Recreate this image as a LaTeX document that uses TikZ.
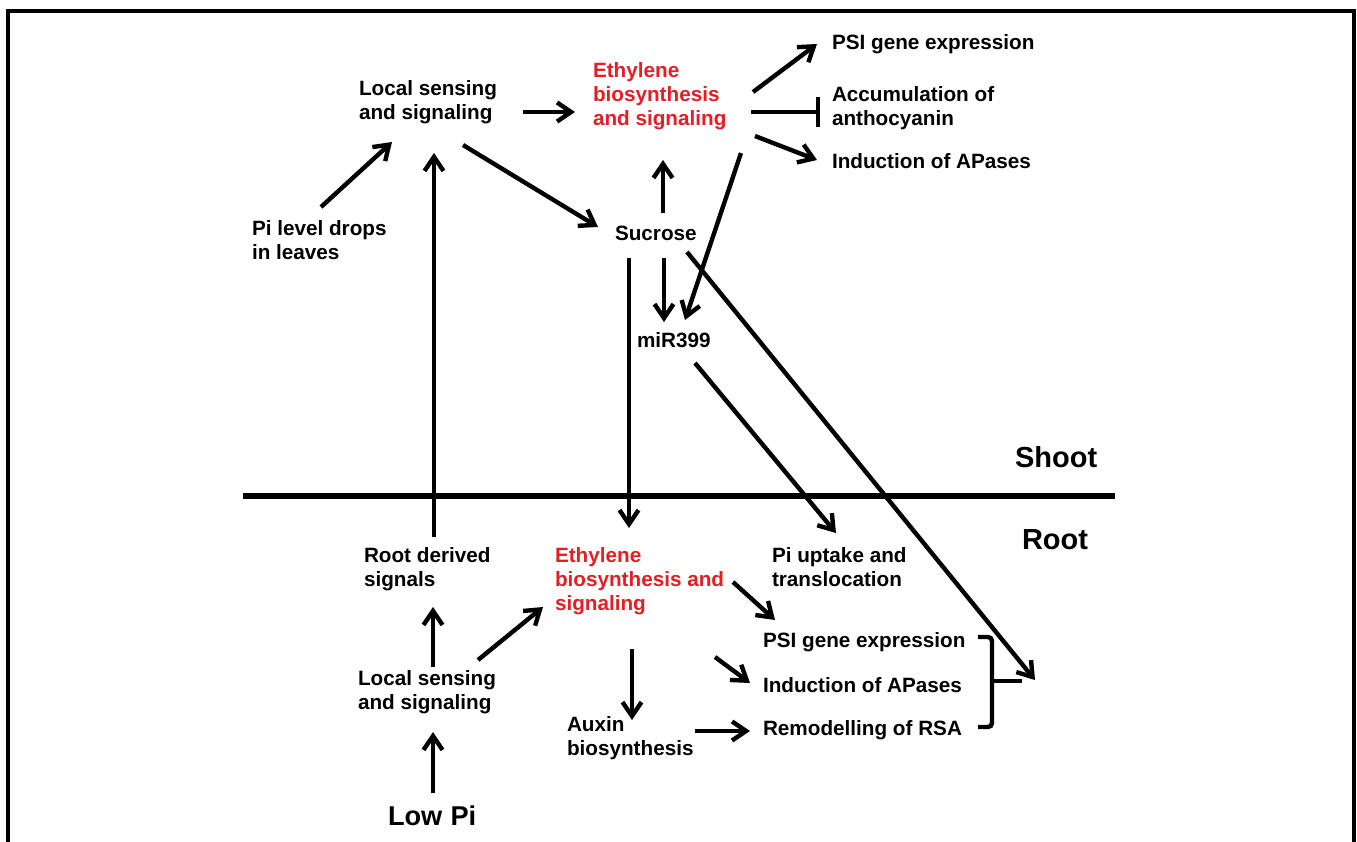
\documentclass[tikz,border=0pt]{standalone}
\usepackage{fontspec}
\setmainfont{Liberation Sans}
\usetikzlibrary{arrows.meta}
\definecolor{ethred}{RGB}{228,30,36}
\begin{document}
\begin{tikzpicture}[x=0.5pt,y=-0.5pt,
 txt/.style={font=\bfseries\fontsize{10.35}{12}\selectfont, inner sep=0pt, outer sep=0pt, align=left},
 rtxt/.style={txt, text=ethred},
 big/.style={font=\bfseries\fontsize{14.5}{17}\selectfont, inner sep=0pt, outer sep=0pt},
 arr/.style={line width=2.2pt, -{Straight Barb[length=7pt,width=9.5pt]}},
 inh/.style={line width=2.2pt, -{Bar[width=15pt]}},
 frm/.style={line width=1.6pt},
 sep/.style={line width=2.8pt}]
\useasboundingbox (0,0) rectangle (1357,842);
\draw[frm] (8,842) -- (8,11) -- (1354,11) -- (1354,842);

% shoot
\node[txt, anchor=north west] (lsT) at (359,80) {Local sensing\\and signaling};
\node[rtxt, anchor=north west] (ethT) at (593,62) {Ethylene\\biosynthesis\\and signaling};
\node[txt, anchor=north west] (pild) at (252,220) {Pi level drops\\in leaves};
\node[txt, anchor=base west] (suc) at (615,240) {Sucrose};
\node[txt, anchor=base west] (mir) at (637,347) {miR399};
\node[txt, anchor=base west] (psiT) at (832,49.5) {PSI gene expression};
\node[txt, anchor=north west] (acc) at (832,86.5) {Accumulation of\\anthocyanin};
\node[txt, anchor=base west] (indT) at (832,168) {Induction of APases};
\node[big, anchor=base west] (shoot) at (1015,467) {Shoot};
\node[big, anchor=base west] (root) at (1022,549) {Root};

% root
\node[txt, anchor=north west] (rds) at (364,547) {Root derived\\signals};
\node[rtxt, anchor=north west] (ethB) at (555,547) {Ethylene\\biosynthesis and\\signaling};
\node[txt, anchor=north west] (piup) at (772,547) {Pi uptake and\\translocation};
\node[txt, anchor=base west] (psiB) at (763,647.5) {PSI gene expression};
\node[txt, anchor=base west] (indB) at (763,692.5) {Induction of APases};
\node[txt, anchor=base west] (rem) at (763,735) {Remodelling of RSA};
\node[txt, anchor=north west] (lsB) at (358,670) {Local sensing\\and signaling};
\node[txt, anchor=north west] (aux) at (567,716) {Auxin\\biosynthesis};
\node[big, anchor=base west, font=\bfseries\fontsize{13.6}{16}\selectfont] (lowpi) at (388,825) {Low\hspace{0.3em}Pi};

% separator
\coordinate (sepL) at (243,496);
\coordinate (sepR) at (1115,496);
\draw[sep] (sepL) -- (sepR);

% bracket
\coordinate (brk) at (992,681);
\draw[line width=2.2pt, rounded corners=2pt] ([shift={(-14,-44)}]brk) -- ([shift={(0,-44)}]brk) -- ([shift={(0,46)}]brk) -- ([shift={(-14,46)}]brk);
\draw[line width=2.2pt] (brk) -- ([shift={(30,0)}]brk);

% shoot arrows
\draw[arr] ([shift={(164,32)}]lsT.north west) -- ([shift={(-18,50)}]ethT.north west);
\draw[arr] ([shift={(69,-13)}]pild.north west) -- ([shift={(33,62)}]lsT.north west);
\draw[arr] ([shift={(70,-10)}]rds.north west) -- ([shift={(75,73)}]lsT.north west);
\draw[arr] ([shift={(104,65)}]lsT.north west) -- ([shift={(-17,-13)}]suc.base west);
\draw[arr] ([shift={(48,-27)}]suc.base west) -- ([shift={(70,98)}]ethT.north west);
\draw[arr] ([shift={(49,18)}]suc.base west) -- ([shift={(27,-25)}]mir.base west);
\draw[arr] ([shift={(148,91)}]ethT.north west) -- ([shift={(48,-27)}]mir.base west);
\draw[arr] ([shift={(14,18)}]suc.base west) -- ([shift={(74,-19)}]ethB.north west);
\draw[arr] ([shift={(72,12)}]suc.base west) -- ([shift={(43,-1)}]brk);
\draw[arr] ([shift={(58,16)}]mir.base west) -- ([shift={(64,-14)}]piup.north west);
\draw[arr] ([shift={(160,30)}]ethT.north west) -- ([shift={(-15,-5.5)}]psiT.base west);
\draw[inh] ([shift={(158,50)}]ethT.north west) -- ([shift={(-12,25.5)}]acc.north west);
\draw[arr] ([shift={(162,74)}]ethT.north west) -- ([shift={(-15,-8)}]indT.base west);

% root arrows
\draw[arr] ([shift={(75,-3)}]lsB.north west) -- ([shift={(69,60)}]rds.north west);
\draw[arr] ([shift={(45,-32)}]lowpi.base west) -- ([shift={(75,62)}]lsB.north west);
\draw[arr] ([shift={(120,-10)}]lsB.north west) -- ([shift={(-12,60)}]ethB.north west);
\draw[arr] ([shift={(77,102)}]ethB.north west) -- ([shift={(65,4)}]aux.north west);
\draw[arr] ([shift={(178,35)}]ethB.north west) -- ([shift={(12,-27.5)}]psiB.base west);
\draw[arr] ([shift={(160,110)}]ethB.north west) -- ([shift={(-13,-9.5)}]indB.base west);
\draw[arr] ([shift={(128,15)}]aux.north west) -- ([shift={(-13,-4)}]rem.base west);
\end{tikzpicture}
\end{document}
